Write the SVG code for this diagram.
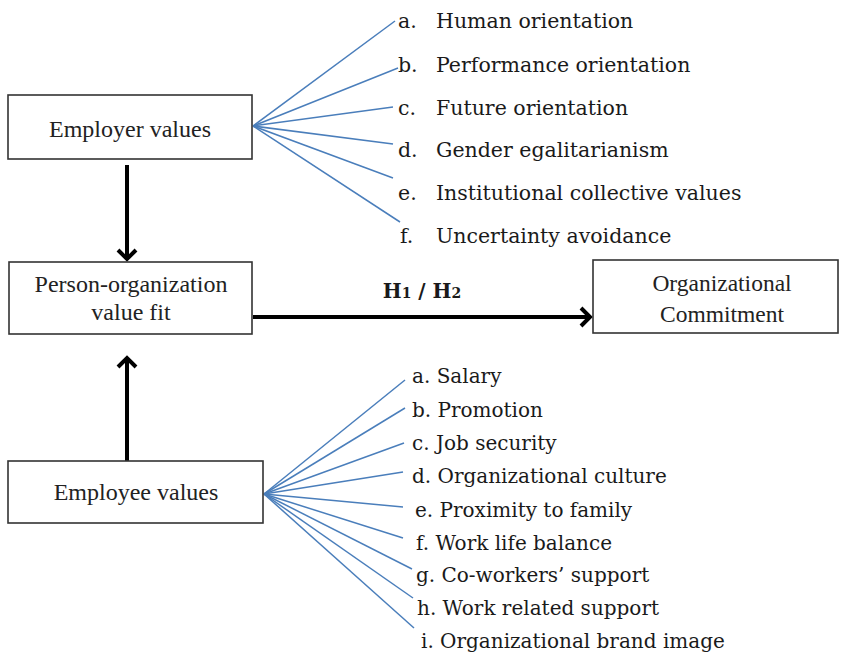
<svg xmlns="http://www.w3.org/2000/svg" width="842" height="654" viewBox="0 0 842 654">
<style>
.box{fill:#fff;stroke:#333;stroke-width:1.6}
.bt{font-family:"Liberation Serif","Times New Roman",serif;font-size:24px;fill:#222;text-anchor:middle}
.lb{font-family:"DejaVu Serif","Liberation Serif",serif;font-size:20.5px;fill:#1a1a1a}
.lb2{font-family:"DejaVu Serif","Liberation Serif",serif;font-size:20px;fill:#1a1a1a}
.fan{stroke:#4a7ebb;stroke-width:1.5;fill:none}
.arr{stroke:#000;stroke-width:4;fill:none;marker-end:url(#ah)}
</style>
<defs>
<marker id="ah" markerUnits="userSpaceOnUse" markerWidth="30" markerHeight="30" viewBox="-15 -15 30 30" refX="0" refY="0" orient="auto">
<path d="M-9,-9 L0,0 L-9,9" fill="none" stroke="#000" stroke-width="4" stroke-linejoin="miter"/>
</marker>
</defs>
<rect width="842" height="654" fill="#fff"/>
<g id="connectors">
<line class="arr" x1="127" y1="165" x2="127" y2="259"/>
<line class="arr" x1="127" y1="461" x2="127" y2="358"/>
<line class="arr" x1="253" y1="317" x2="590" y2="317"/>
<g class="fan">
<line x1="253" y1="126" x2="395" y2="21"/>
<line x1="253" y1="126" x2="398" y2="68"/>
<line x1="253" y1="126" x2="393" y2="107"/>
<line x1="253" y1="126" x2="393" y2="144"/>
<line x1="253" y1="126" x2="393" y2="178"/>
<line x1="253" y1="126" x2="400" y2="222"/>
<line x1="264" y1="494" x2="405" y2="380"/>
<line x1="264" y1="494" x2="405" y2="408"/>
<line x1="264" y1="494" x2="404" y2="443"/>
<line x1="264" y1="494" x2="403" y2="472"/>
<line x1="264" y1="494" x2="403" y2="507"/>
<line x1="264" y1="494" x2="403" y2="538"/>
<line x1="264" y1="494" x2="412" y2="569"/>
<line x1="264" y1="494" x2="413" y2="598"/>
<line x1="264" y1="494" x2="414" y2="628"/>
</g>
<text x="422" y="298" text-anchor="middle" font-family="DejaVu Serif,'Liberation Serif',serif" font-weight="bold" font-size="20px" fill="#1a1a1a">H<tspan font-size="14px">1</tspan> / H<tspan font-size="14px">2</tspan></text>
</g>
<g id="employer">
<rect class="box" x="8" y="95" width="244" height="64"/>
<text class="bt" x="130" y="137">Employer values</text>
</g>
<g id="employer-items" class="lb">
<text x="398" y="28">a.</text><text x="436" y="28">Human orientation</text>
<text x="398" y="72">b.</text><text x="436" y="72">Performance orientation</text>
<text x="398" y="115">c.</text><text x="436" y="115">Future orientation</text>
<text x="398" y="157">d.</text><text x="436" y="157">Gender egalitarianism</text>
<text x="398" y="200">e.</text><text x="436" y="200">Institutional collective values</text>
<text x="400" y="243">f.</text><text x="436" y="243">Uncertainty avoidance</text>
</g>
<g id="pofit">
<rect class="box" x="9" y="262" width="243" height="72"/>
<text class="bt" x="131" y="292">Person-organization</text>
<text class="bt" x="131" y="320">value fit</text>
</g>
<g id="commitment">
<rect class="box" x="593" y="260" width="245" height="73"/>
<text class="bt" x="722" y="291" style="font-size:23.5px">Organizational</text>
<text class="bt" x="722" y="322" style="font-size:23.5px">Commitment</text>
</g>
<g id="employee">
<rect class="box" x="8" y="461" width="255" height="62"/>
<text class="bt" x="136" y="500">Employee values</text>
</g>
<g id="employee-items" class="lb2">
<text x="412" y="383">a. Salary</text>
<text x="412" y="417">b. Promotion</text>
<text x="412" y="450">c. Job security</text>
<text x="412" y="483">d. Organizational culture</text>
<text x="415" y="517">e. Proximity to family</text>
<text x="416" y="550">f. Work life balance</text>
<text x="416" y="582">g. Co-workers’ support</text>
<text x="417" y="615">h. Work related support</text>
<text x="421" y="648">i. Organizational brand image</text>
</g>
</svg>
